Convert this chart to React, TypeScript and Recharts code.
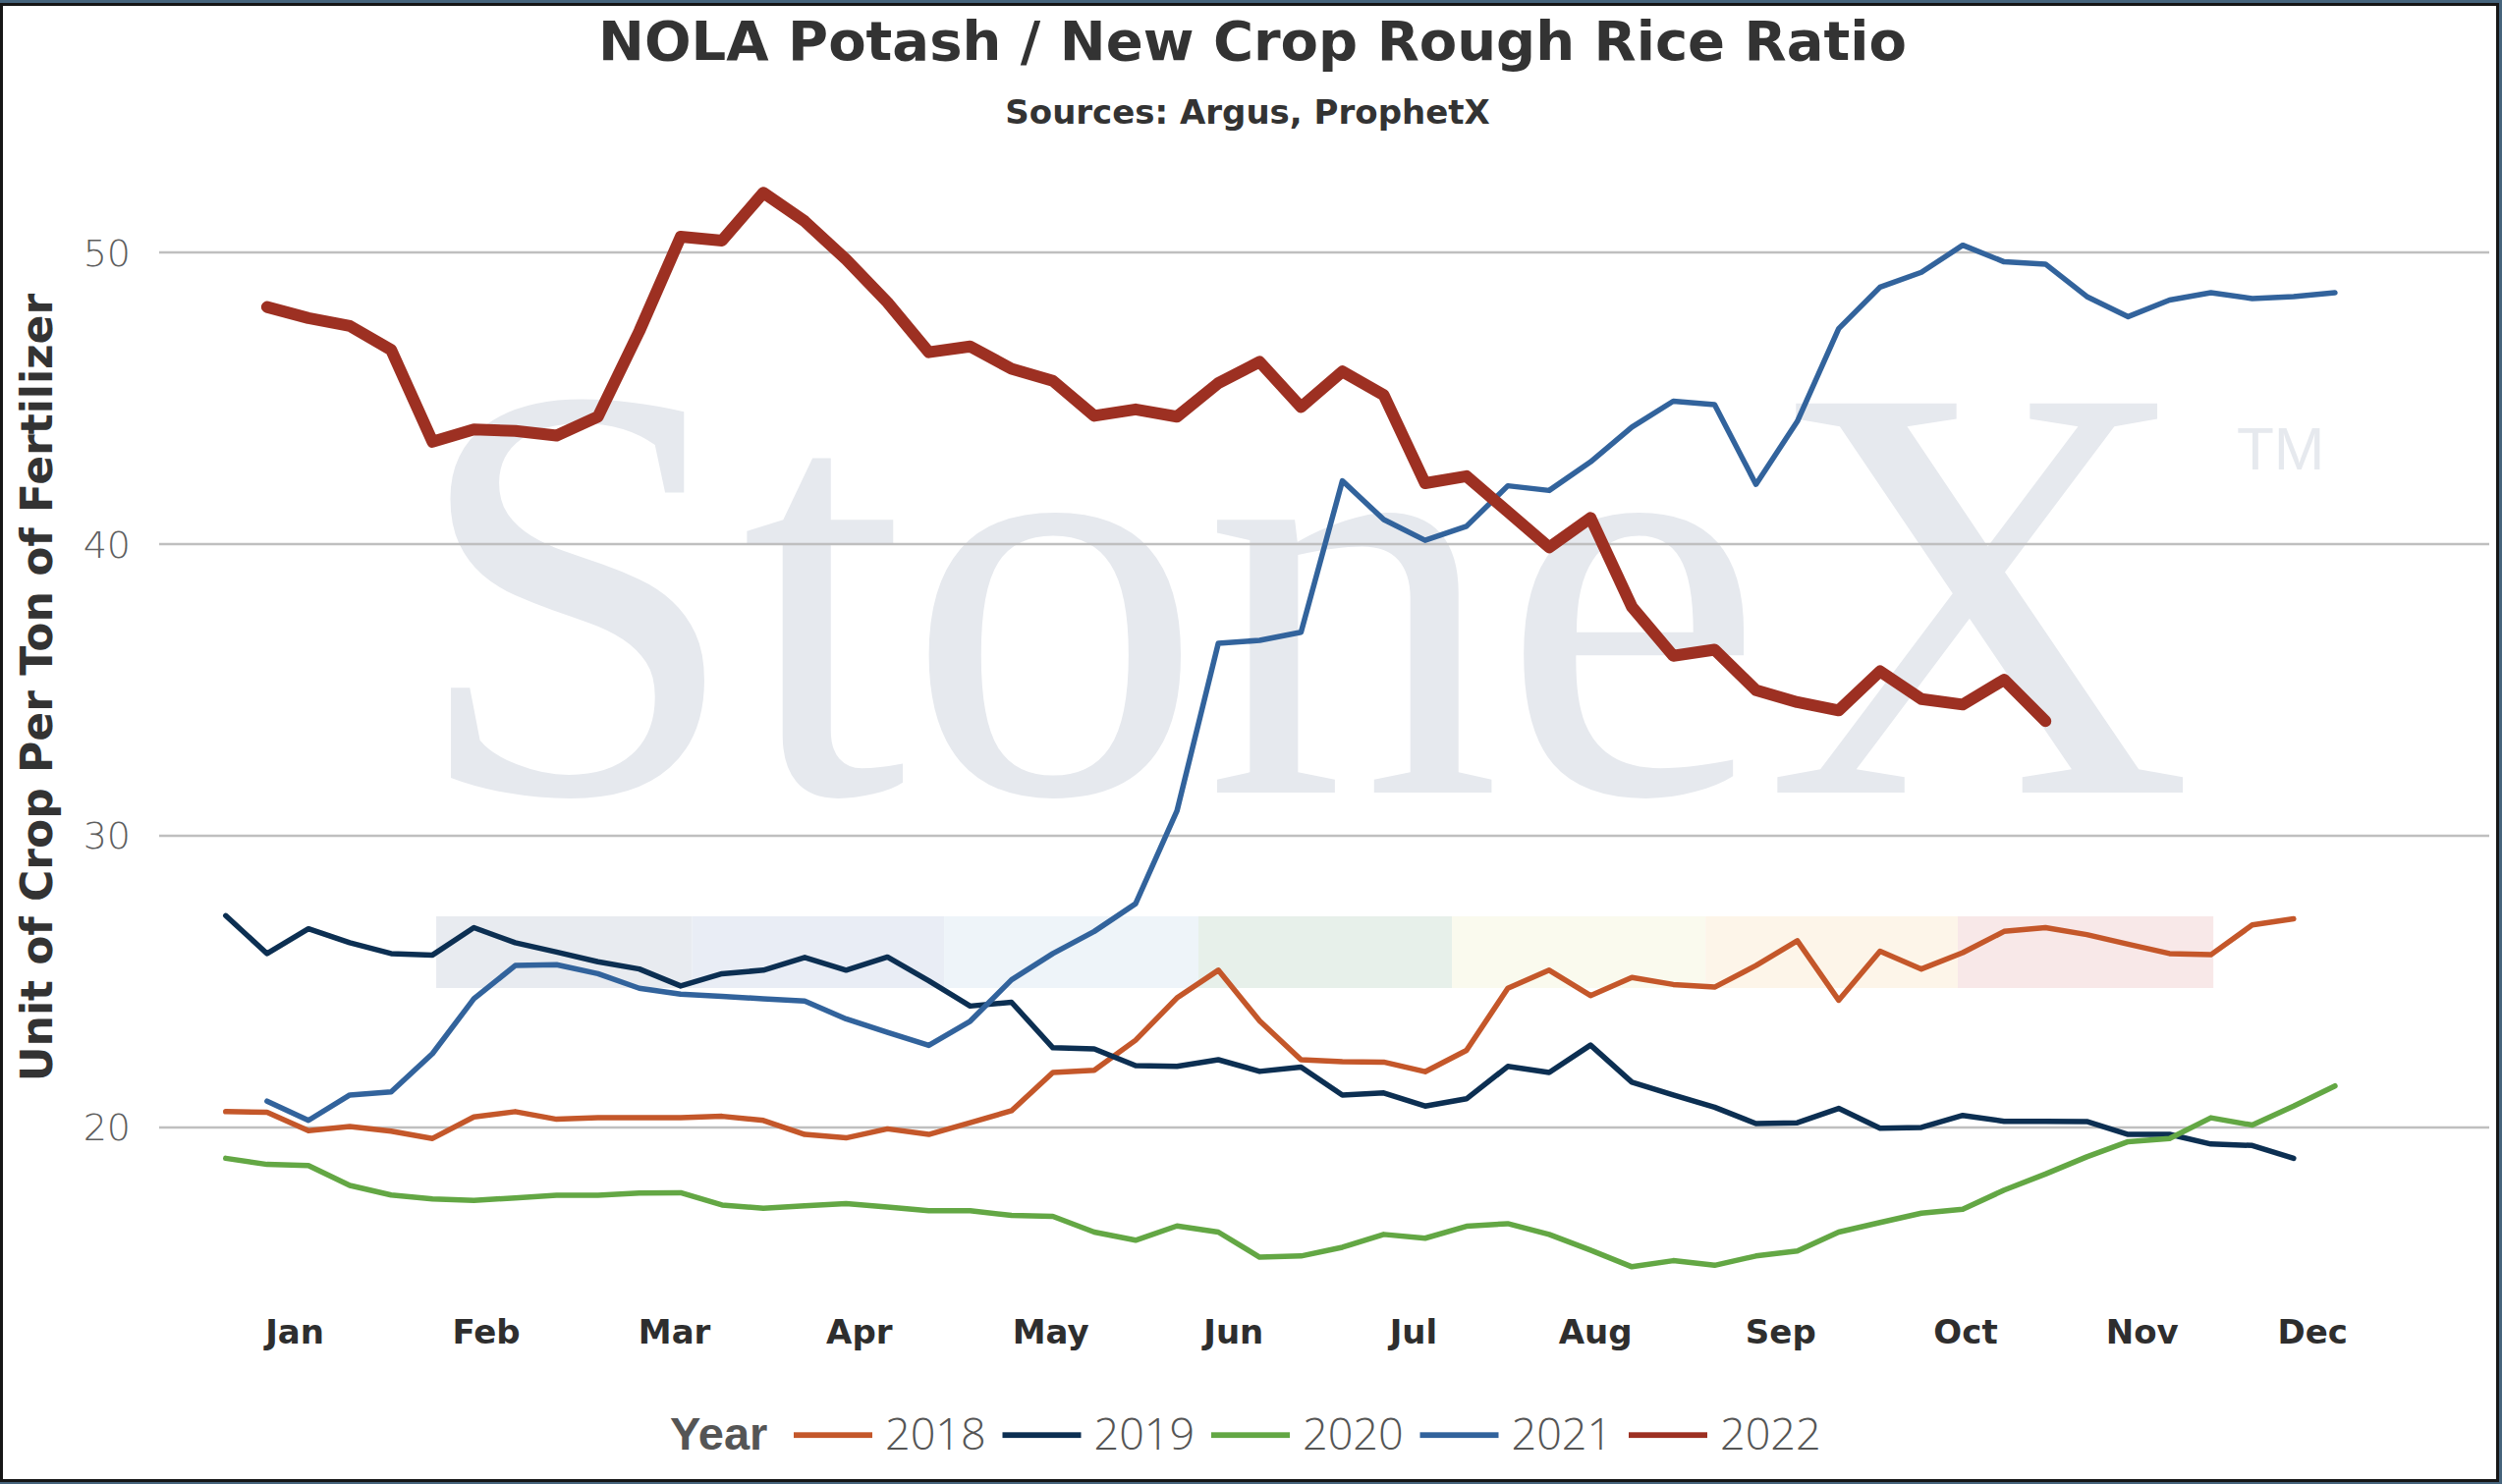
import { LineChart, Line, XAxis, YAxis, CartesianGrid, ReferenceArea } from "recharts";

const W = 2547;
const H = 1511;

const YEARS = ["2018", "2019", "2020", "2021", "2022"];
const COLORS = ["#c4572a", "#0c2f52", "#63a744", "#32639c", "#9d3022"];
const WIDTHS = [5.5, 5.5, 5.5, 5.5, 12];
// first week each series starts on
const START_WEEK = [1, 1, 1, 2, 2];

const MONTHS = ["Jan", "Feb", "Mar", "Apr", "May", "Jun", "Jul", "Aug", "Sep", "Oct", "Nov", "Dec"];
const MONTH_TICKS = [2.67, 7.3, 11.85, 16.32, 20.95, 25.37, 29.72, 34.12, 38.6, 43.07, 47.34, 51.46];
const Y_TICKS = [20, 30, 40, 50];

const Y2018 = [
  20.54, 20.52, 19.89, 20.03, 19.87, 19.62, 20.36, 20.54, 20.28, 20.33,
  20.33, 20.33, 20.38, 20.24, 19.76, 19.64, 19.95, 19.76, 20.16, 20.57,
  21.88, 21.96, 22.99, 24.44, 25.39, 23.65, 22.32, 22.25, 22.24, 21.91,
  22.64, 24.77, 25.39, 24.52, 25.14, 24.9, 24.81, 25.55, 26.4, 24.36,
  26.04, 25.43, 25.99, 26.72, 26.85, 26.61, 26.28, 25.96, 25.92, 26.94, 27.15,
];
const Y2019 = [
  27.26, 25.96, 26.81, 26.33, 25.96, 25.91, 26.85, 26.33, 26.01, 25.68,
  25.43, 24.85, 25.27, 25.39, 25.83, 25.39, 25.84, 25.03, 24.16, 24.29,
  22.73, 22.69, 22.12, 22.09, 22.32, 21.92, 22.07, 21.11, 21.18, 20.73,
  20.98, 22.09, 21.88, 22.82, 21.55, 21.11, 20.69, 20.13, 20.16, 20.65,
  19.97, 20.0, 20.41, 20.21, 20.21, 20.2, 19.76, 19.76, 19.43, 19.38, 18.94,
];
const Y2020 = [
  18.94, 18.73, 18.69, 18.01, 17.68, 17.55, 17.5, 17.58, 17.67, 17.67,
  17.75, 17.76, 17.34, 17.23, 17.31, 17.39, 17.27, 17.14, 17.14, 16.98,
  16.95, 16.41, 16.13, 16.62, 16.41, 15.55, 15.59, 15.89, 16.33, 16.2,
  16.61, 16.7, 16.33, 15.79, 15.22, 15.43, 15.27, 15.59, 15.76, 16.41,
  16.74, 17.06, 17.19, 17.85, 18.4, 18.99, 19.51, 19.62, 20.33, 20.08,
  20.73, 21.42,
];
const Y2021 = [
  20.9, 20.24, 21.11, 21.22, 22.53, 24.41, 25.55, 25.58, 25.27, 24.77,
  24.57, 24.49, 24.41, 24.33, 23.72, 23.26, 22.81, 23.64, 25.06, 25.96,
  26.72, 27.67, 30.85, 36.6, 36.7, 36.98, 42.17, 40.84, 40.13, 40.61,
  42.0, 41.84, 42.82, 44.01, 44.9, 44.78, 42.05, 44.21, 47.39, 48.81,
  49.32, 50.25, 49.68, 49.6, 48.49, 47.8, 48.37, 48.62, 48.42, 48.49, 48.62,
];
const Y2022 = [
  48.13, 47.75, 47.48, 46.66, 43.51, 43.93, 43.88, 43.72, 44.37, 47.3,
  50.54, 50.41, 52.05, 51.07, 49.76, 48.29, 46.58, 46.78, 46.01, 45.6,
  44.4, 44.62, 44.37, 45.52, 46.25, 44.7, 45.92, 45.11, 42.09, 42.33,
  41.11, 39.89, 40.9, 37.85, 36.17, 36.38, 34.99, 34.58, 34.3, 35.64,
  34.69, 34.5, 35.35, 33.93,
];
const SERIES = [Y2018, Y2019, Y2020, Y2021, Y2022];

// coloured strip of the watermark logo (week edges, value range)
const BAND_EDGES = [6.09, 12.27, 18.37, 24.52, 30.65, 36.78, 42.88, 49.06];
const BAND_COLORS = ["#e8ebf0", "#e9edf5", "#eef4f9", "#e7f0ea", "#fafaee", "#fdf5e9", "#f8e8e8"];
const BAND_Y = [24.78, 27.24];

const rows = Array.from({ length: 52 }, (_, i) => {
  const week = i + 1;
  const row: Record<string, number | undefined> = { week };
  YEARS.forEach((y, s) => {
    row[y] = SERIES[s][week - START_WEEK[s]];
  });
  return row;
});

const FONT = "'DejaVu Sans', Verdana, sans-serif";

export default function App() {
  return (
    <div style={{ position: "absolute", left: 0, top: 0, width: W, height: H, background: "#fff", overflow: "hidden" }}>
      <svg width={W} height={H} style={{ position: "absolute", left: 0, top: 0 }}>
        <text x={418} y={807} fontFamily="'Liberation Serif', 'Times New Roman', serif" fontSize={605} fill="#e6e9ee">
          StoneX
        </text>
        <text x={2277} y={478} fontFamily="'Liberation Sans', Arial, sans-serif" fontSize={62} fill="#e6e9ee">
          TM
        </text>
        <text x={1275} y={60.5} textAnchor="middle" fontFamily={FONT} fontWeight="bold" fontSize={56} fill="#333">
          NOLA Potash / New Crop Rough Rice Ratio
        </text>
        <text x={1270} y={126} textAnchor="middle" fontFamily={FONT} fontWeight="bold" fontSize={34} fill="#333">
          Sources: Argus, ProphetX
        </text>
        <text transform="translate(53,700) rotate(-90)" textAnchor="middle" fontFamily={FONT} fontWeight="bold" fontSize={44} fill="#333">
          Unit of Crop Per Ton of Fertilizer
        </text>
        <text x={682} y={1476} fontFamily="'Liberation Sans', Arial, sans-serif" fontWeight="bold" fontSize={47} fill="#555">
          Year
        </text>
        {YEARS.map((y, i) => (
          <g key={y}>
            <rect x={808 + 212.5 * i} y={1458.3} width={80} height={5.8} fill={COLORS[i]} />
            <text x={901 + 212.5 * i} y={1476} fontFamily="'Open Sans', sans-serif" fontWeight={300} fontSize={45} fill="#555">
              {y}
            </text>
          </g>
        ))}
      </svg>

      <div style={{ position: "absolute", left: 0, top: 0 }}>
        <LineChart width={W} height={H} data={rows} margin={{ top: 168, right: 13, left: 62, bottom: 119 }}>
          <CartesianGrid vertical={false} horizontalValues={Y_TICKS} stroke="#bfbfbf" strokeWidth={2.5} />
          <XAxis
            type="number"
            dataKey="week"
            domain={[-0.61, 55.73]}
            allowDataOverflow
            ticks={MONTH_TICKS}
            interval={0}
            tickFormatter={(v: number) => MONTHS[MONTH_TICKS.indexOf(v)] ?? ""}
            axisLine={false}
            tickLine={false}
            tickSize={0}
            tickMargin={12}
            height={60}
            tick={{ fontFamily: FONT, fontWeight: "bold", fontSize: 34, fill: "#2e2e2e" }}
          />
          <YAxis
            type="number"
            domain={[13.8, 53]}
            allowDataOverflow
            ticks={Y_TICKS}
            axisLine={false}
            tickLine={false}
            tickSize={0}
            tickMargin={29}
            width={100}
            tick={{ fontFamily: FONT, fontWeight: 200, fontSize: 38, fill: "#5e5e5e" }}
          />
          {BAND_COLORS.map((c, i) => (
            <ReferenceArea
              key={c}
              x1={BAND_EDGES[i]}
              x2={BAND_EDGES[i + 1]}
              y1={BAND_Y[0]}
              y2={BAND_Y[1]}
              fill={c}
              fillOpacity={1}
              stroke="none"
            />
          ))}
          {YEARS.map((y, i) => (
            <Line
              key={y}
              dataKey={y}
              stroke={COLORS[i]}
              strokeWidth={WIDTHS[i]}
              strokeLinejoin="round"
              strokeLinecap="round"
              dot={false}
              activeDot={false}
              isAnimationActive={false}
            />
          ))}
        </LineChart>
      </div>

      <div
        style={{
          position: "absolute",
          left: 0,
          top: 0,
          width: W,
          height: H,
          boxSizing: "border-box",
          borderTop: "3px solid #46647c",
          borderRight: "3px solid #46647c",
          borderBottom: "2px solid #46647c",
          pointerEvents: "none",
        }}
      >
        <div style={{ width: "100%", height: "100%", boxSizing: "border-box", border: "3px solid #161616" }} />
      </div>
    </div>
  );
}
